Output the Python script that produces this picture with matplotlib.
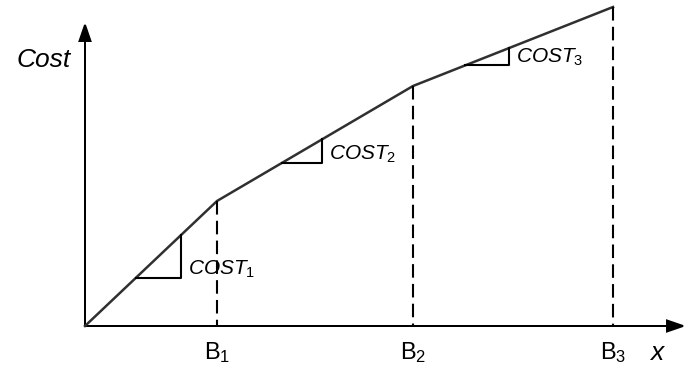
import matplotlib.pyplot as plt
import numpy as np

plt.rcParams['font.family'] = ['Liberation Sans', 'DejaVu Sans']
plt.rcParams['mathtext.fontset'] = 'custom'
plt.rcParams['mathtext.rm'] = 'Liberation Sans'
plt.rcParams['mathtext.it'] = 'Liberation Sans:italic'
plt.rcParams['mathtext.sf'] = 'Liberation Sans'

# piecewise linear cost curve (breakpoints and cumulative cost)
breakpoints = [0, 132, 328, 528]
cumulative_cost = [0, 125, 240, 319]
break_labels = [r'$\mathrm{B}_1$', r'$\mathrm{B}_2$', r'$\mathrm{B}_3$']

# slope triangles: start on the segment and width
tri_start = [51, 197, 380]
tri_width = [45, 40, 44]
tri_labels = [r'$\mathit{COST}_{\mathrm{1}}$', r'$\mathit{COST}_{\mathrm{2}}$',
              r'$\mathit{COST}_{\mathrm{3}}$']

fig = plt.figure(figsize=(6.92, 3.74), dpi=100)
ax = fig.add_axes([0, 0, 1, 1])
ax.set_xlim(-85, 607)
ax.set_ylim(-48, 326)
ax.axis('off')

# axes with arrows
ax.arrow(0, 0, 582, 0, head_width=11, head_length=16, lw=1.4,
         fc='black', ec='black', length_includes_head=False)
ax.arrow(0, 0, 0, 285, head_width=11, head_length=16, lw=1.4,
         fc='black', ec='black', length_includes_head=False)

# cost curve
ax.plot(breakpoints, cumulative_cost, color='#303030', lw=1.8)

# dashed verticals and labels
for b, c, lab in zip(breakpoints[1:], cumulative_cost[1:], break_labels):
    ax.plot([b, b], [c, 0], color='black', lw=1.5, linestyle=(0, (6.5, 3)))
    ax.text(b, -27, lab, fontsize=17, ha='center', va='center')

# slope triangles
for x0, w, lab in zip(tri_start, tri_width, tri_labels):
    y0 = np.interp(x0, breakpoints, cumulative_cost)
    y1 = np.interp(x0 + w, breakpoints, cumulative_cost)
    ax.plot([x0, x0 + w, x0 + w], [y0, y0, y1], color='black', lw=1.5)
    ax.text(x0 + w + 7, y0 + 3, lab, fontsize=15, ha='left', va='baseline')

ax.text(-41, 266, 'Cost', fontsize=19, style='italic', ha='center', va='center')
ax.text(572, -27, 'x', fontsize=19, style='italic', ha='center', va='center')

fig.savefig('out.png', dpi=100)
